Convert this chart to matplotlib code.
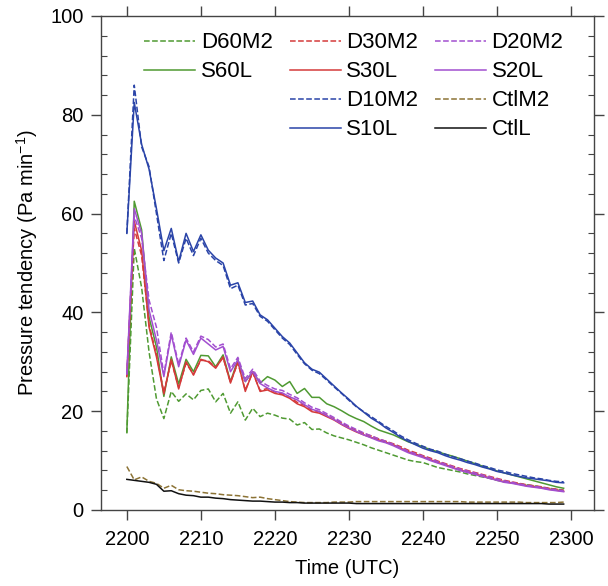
"""Pressure tendency time series, 2200-2300 UTC (control vs. sensitivity runs)."""
import numpy as np
import matplotlib; matplotlib.use("Agg")
import matplotlib.pyplot as plt
from matplotlib.lines import Line2D
from matplotlib.ticker import MultipleLocator

plt.rcParams["font.family"] = ["Liberation Sans", "DejaVu Sans"]
plt.rcParams["mathtext.fontset"] = "custom"
plt.rcParams["mathtext.rm"] = "Liberation Sans"

# minutes after 2200 UTC
minutes = np.arange(0, 60)
xtick_pos = [0, 10, 20, 30, 40, 50, 60]
xtick_labels = ["2200", "2210", "2220", "2230", "2240", "2250", "2300"]

# Pa min^-1
s10l = [56, 82.5, 74, 69, 61, 52.5, 57, 50.3, 56, 52.3, 55.7, 52.6, 51, 50, 45.5, 46, 42, 42.3, 39.5, 38.5,
        36.8, 35.1, 33.8, 31.8, 29.8, 28.5, 27.9, 26.5, 25.1, 23.7, 22.4, 21.0, 19.8, 18.6, 17.7, 16.6, 15.7, 14.7, 13.9, 13.2,
        12.5, 12.0, 11.6, 11.0, 10.5, 10.1, 9.6, 9.2, 8.7, 8.3, 7.8, 7.5, 7.1, 6.8, 6.5, 6.3, 6.1, 5.9, 5.6, 5.5]
d10m2 = [56, 86, 73.5, 69.5, 60, 50.5, 56, 50, 55, 51.5, 55, 52, 50.5, 49.5, 44.8, 45.5, 41.5, 41.8, 39.2, 38.2,
         36.5, 34.8, 33.5, 31.5, 29.6, 28.3, 27.6, 26.3, 24.9, 23.6, 22.2, 20.9, 19.9, 18.9, 17.9, 16.9, 16.0, 15.0, 14.2, 13.5,
         12.9, 12.3, 11.9, 11.3, 10.8, 10.4, 9.9, 9.5, 9.0, 8.6, 8.1, 7.8, 7.4, 7.1, 6.8, 6.5, 6.3, 6.0, 5.8, 5.7]
s60l = [15.8, 62.5, 56.7, 39, 33, 23, 31, 25.5, 30.5, 28, 31.3, 31.2, 29, 31.4, 26, 30.4, 26, 28, 25.7, 27,
        26.3, 25, 26, 23.6, 24.6, 22.8, 22.8, 21.5, 20.9, 20.1, 19.2, 18.5, 17.9, 17.0, 16.2, 15.7, 15.2, 14.5, 13.8, 13.3,
        12.8, 12.2, 11.8, 11.3, 10.9, 10.4, 9.9, 9.4, 8.9, 8.4, 7.9, 7.5, 7.1, 6.7, 6.3, 5.9, 5.5, 5.1, 4.7, 4.4]
d60m2 = [15.5, 53, 45, 32, 22.5, 18.5, 24, 22, 23.5, 22.3, 24.2, 24.5, 21.9, 23.6, 19.6, 21.9, 18.2, 20.6, 18.9, 19.6,
         19.2, 18.6, 18.4, 17.2, 17.7, 16.3, 16.4, 15.6, 15.0, 14.6, 14.2, 13.7, 13.2, 12.6, 12.1, 11.6, 11.1, 10.6, 10.1, 9.8,
         9.6, 9.1, 8.6, 8.3, 8.0, 7.7, 7.3, 7.0, 6.7, 6.4, 6.0, 5.7, 5.5, 5.3, 5.1, 4.9, 4.6, 4.4, 4.2, 4.0]
s30l = [27, 58.5, 52.5, 37, 31, 23.5, 30.5, 24.5, 30, 27.3, 30.5, 30, 28.7, 31, 25.7, 30, 24, 28, 24, 24.3,
        23.6, 23.3, 22.6, 21.5, 20.9, 19.9, 19.6, 18.9, 18.2, 17.3, 16.5, 15.8, 15.2, 14.7, 14.2, 13.7, 13.2, 12.5, 11.8, 11.3,
        10.8, 10.2, 9.6, 9.2, 8.6, 8.1, 7.7, 7.3, 6.9, 6.5, 6.1, 5.7, 5.5, 5.2, 4.9, 4.7, 4.5, 4.2, 4.0, 3.8]
d30m2 = [27, 57, 51.5, 37.5, 31.5, 23.8, 30.2, 24.8, 29.7, 27.5, 30.3, 30.2, 28.9, 30.8, 25.9, 29.8, 24.3, 27.8, 24.2, 24.6,
         23.9, 23.5, 22.9, 21.8, 21.2, 20.2, 19.9, 19.2, 18.4, 17.6, 16.8, 16.1, 15.5, 15.0, 14.4, 13.9, 13.4, 12.8, 12.1, 11.6,
         11.0, 10.5, 9.9, 9.4, 8.9, 8.4, 8.0, 7.6, 7.2, 6.8, 6.4, 6.0, 5.7, 5.4, 5.1, 4.9, 4.7, 4.4, 4.2, 4.0]
s20l = [27.5, 61, 56, 40.5, 34.4, 27, 35.5, 29, 34.4, 31.5, 34.8, 33.6, 32.4, 33.1, 28, 30.4, 26, 28, 25.6, 24.7,
        24, 23.7, 22.9, 22.3, 21.3, 20.4, 19.9, 19.1, 18.3, 17.4, 16.6, 15.9, 15.2, 14.6, 14.0, 13.6, 13.0, 12.3, 11.6, 11.1,
        10.6, 10.0, 9.5, 9.0, 8.5, 8.0, 7.6, 7.2, 6.8, 6.4, 6.0, 5.6, 5.4, 5.1, 4.8, 4.6, 4.4, 4.1, 3.9, 3.7]
d20m2 = [27.5, 59.5, 55, 42.5, 37, 27.5, 36, 29.5, 34.8, 32, 35.2, 34.5, 33, 33.6, 28.6, 30.9, 26.6, 28.5, 26.1, 25.2,
         24.5, 24.2, 23.4, 22.7, 21.7, 20.8, 20.3, 19.5, 18.7, 17.8, 17.0, 16.3, 15.6, 15.0, 14.4, 13.9, 13.3, 12.6, 11.9, 11.4,
         10.9, 10.3, 9.8, 9.3, 8.8, 8.3, 7.9, 7.5, 7.1, 6.7, 6.3, 5.9, 5.6, 5.3, 5.0, 4.8, 4.6, 4.3, 4.1, 3.9]
ctlm2 = [8.8, 6.1, 6.7, 5.8, 5.4, 4.4, 5.0, 4.1, 3.9, 3.8, 3.6, 3.4, 3.3, 3.1, 3.0, 2.9, 2.7, 2.5, 2.6, 2.3,
         2.1, 1.9, 1.7, 1.6, 1.5, 1.5, 1.5, 1.5, 1.6, 1.6, 1.6, 1.7, 1.7, 1.7, 1.7, 1.7, 1.7, 1.7, 1.7, 1.7,
         1.7, 1.7, 1.7, 1.7, 1.7, 1.7, 1.6, 1.6, 1.6, 1.6, 1.6, 1.6, 1.6, 1.6, 1.5, 1.5, 1.5, 1.5, 1.5, 1.6]
ctll = [6.2, 6.0, 5.8, 5.6, 5.2, 3.8, 3.9, 3.3, 3.0, 2.9, 2.6, 2.6, 2.4, 2.3, 2.1, 2.0, 1.9, 1.8, 1.8, 1.7,
        1.6, 1.6, 1.5, 1.5, 1.4, 1.4, 1.4, 1.4, 1.4, 1.4, 1.4, 1.3, 1.3, 1.3, 1.3, 1.3, 1.3, 1.3, 1.3, 1.3,
        1.3, 1.3, 1.3, 1.3, 1.3, 1.3, 1.3, 1.3, 1.3, 1.3, 1.3, 1.3, 1.3, 1.3, 1.3, 1.3, 1.3, 1.2, 1.2, 1.2]

GREEN, RED, PURPLE, BLUE = "#4f9a32", "#d43a3a", "#a24fd0", "#2a44a8"
BROWN, BLACK = "#8c7335", "#111111"

series = [  # label, values, colour, linestyle
    ("D60M2", d60m2, GREEN, "--"), ("S60L", s60l, GREEN, "-"),
    ("D30M2", d30m2, RED, "--"), ("S30L", s30l, RED, "-"),
    ("D20M2", d20m2, PURPLE, "--"), ("S20L", s20l, PURPLE, "-"),
    ("D10M2", d10m2, BLUE, "--"), ("S10L", s10l, BLUE, "-"),
    ("CtlM2", ctlm2, BROWN, "--"), ("CtlL", ctll, BLACK, "-"),
]

fig = plt.figure(figsize=(6.08, 5.86), dpi=100)
ax = fig.add_axes([0.166, 0.1297, 0.811, 0.843])

handles = {}
for lab, vals, c, ls in series:
    (h,) = ax.plot(minutes, vals, color=c, ls=ls, lw=1.1, label=lab)
    handles[lab] = h

ax.set_xlim(-3.5, 63.1)
ax.set_ylim(0, 100)
ax.set_xticks(xtick_pos)
ax.set_xticklabels(xtick_labels)
ax.yaxis.set_major_locator(MultipleLocator(20))
ax.yaxis.set_minor_locator(MultipleLocator(4))

for s in ax.spines.values():
    s.set_color("#444444"); s.set_linewidth(1.0)
ax.tick_params(which="major", direction="out", length=7.5, width=1, color="#444444",
               top=True, right=True, labelsize=14.5)
ax.tick_params(axis="x", which="major", pad=7)
ax.tick_params(axis="y", which="major", pad=5)
ax.tick_params(which="minor", direction="in", length=4.5, width=0.8, color="#444444",
               left=True, right=True, bottom=False, top=False)

ax.set_xlabel("Time (UTC)", fontsize=14.5, labelpad=7)
ax.set_ylabel("Pressure tendency (Pa min$^{\\mathregular{-1}}$)", fontsize=14.5, labelpad=7)

# 3 columns, first column only two entries
blank = Line2D([], [], color="none")
order = ["D60M2", "S60L", None, None,
         "D30M2", "S30L", "D10M2", "S10L",
         "D20M2", "S20L", "CtlM2", "CtlL"]
hs = [handles[k] if k else blank for k in order]
ls_ = [k if k else "" for k in order]
ax.legend(hs, ls_, ncol=3, loc="upper left", bbox_to_anchor=(0.07, 0.985), frameon=False,
          fontsize=16, handlelength=2.3, handletextpad=0.25, columnspacing=0.75,
          labelspacing=0.36, borderaxespad=0)

fig.savefig("out.png", dpi=100)
